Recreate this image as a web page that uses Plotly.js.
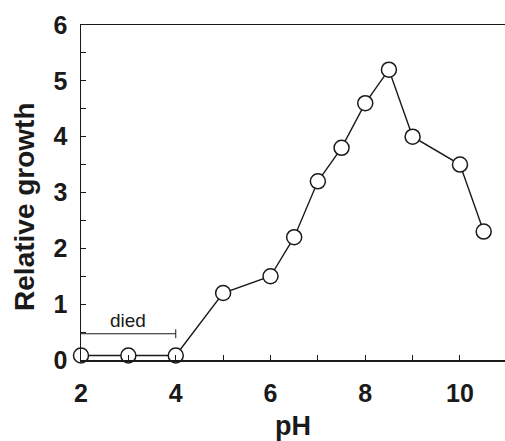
<!DOCTYPE html>
<html>
<head>
<meta charset="utf-8">
<script src="https://cdn.plot.ly/plotly-3.0.1.min.js"></script>
<style>html,body{margin:0;padding:0;background:#fff;}#chart{width:505px;height:441px;}</style>
</head>
<body>
<div id="chart"></div>
<script>
const pH = [2, 3, 4, 5, 6, 6.5, 7, 7.5, 8, 8.5, 9, 10, 10.5];
const growth = [0.08, 0.08, 0.08, 1.2, 1.5, 2.2, 3.2, 3.8, 4.6, 5.2, 4.0, 3.5, 2.3];
const diedRange = [2, 4];
const diedLevel = 0.47;
const diedLabel = "died";
const yTitle = "Relative growth";
const xTitle = "pH";

const ink = '#1a1a1a';
const fontFam = '"Liberation Sans", Arial, sans-serif';

const trace = {
  x: pH, y: growth, type: 'scatter', mode: 'lines+markers',
  line: {color: ink, width: 1.4},
  marker: {symbol: 'circle', size: 15, color: '#fff', line: {color: ink, width: 1.5}},
  cliponaxis: false, showlegend: false, hoverinfo: 'skip'
};

const layout = {
  width: 505, height: 441,
  margin: {l: 81, r: 0, t: 25, b: 81},
  paper_bgcolor: '#fff', plot_bgcolor: '#fff',
  font: {family: fontFam, color: ink},
  xaxis: {
    range: [2, 10.95], tickvals: [2, 4, 6, 8, 10], ticks: 'inside', ticklen: 5, tickwidth: 1, tickcolor: ink,
    minor: {tickvals: [3, 5, 7, 9], ticks: 'inside', ticklen: 5, tickcolor: ink},
    showline: true, linecolor: ink, linewidth: 1.5, mirror: true, showgrid: false, zeroline: false,
    tickfont: {size: 25, family: fontFam, color: ink, weight: 'bold'}, ticklabelstandoff: 10,
    title: {text: xTitle, font: {size: 27, family: fontFam, color: ink, weight: 'bold'}, standoff: 18}
  },
  yaxis: {
    range: [0, 6], dtick: 1, ticks: 'inside', ticklen: 5, tickwidth: 1, tickcolor: ink,
    minor: {dtick: 0.5, ticks: 'inside', ticklen: 5, tickcolor: ink},
    showline: true, linecolor: ink, linewidth: 1.5, showgrid: false, zeroline: false,
    tickfont: {size: 25, family: fontFam, color: ink, weight: 'bold'}, ticklabelstandoff: 7
  },
  shapes: [
    {type: 'line', xref: 'x', yref: 'y', x0: diedRange[0], x1: diedRange[1], y0: diedLevel, y1: diedLevel, line: {color: ink, width: 1}},
    {type: 'line', xref: 'x', yref: 'y', x0: diedRange[1], x1: diedRange[1], y0: diedLevel - 0.08, y1: diedLevel + 0.08, line: {color: ink, width: 1}}
  ],
  annotations: [
    {x: (diedRange[0] + diedRange[1]) / 2, y: diedLevel, xref: 'x', yref: 'y', text: diedLabel, showarrow: false,
     yanchor: 'bottom', yshift: 1, font: {size: 19, family: fontFam, color: ink}},
    {x: -0.132, y: 0.457, xref: 'paper', yref: 'paper', text: yTitle, textangle: -90, showarrow: false,
     xanchor: 'center', yanchor: 'middle', font: {size: 28, family: fontFam, color: ink, weight: 'bold'}}
  ]
};

Plotly.newPlot('chart', [trace], layout, {displayModeBar: false, staticPlot: true});
</script>
</body>
</html>
